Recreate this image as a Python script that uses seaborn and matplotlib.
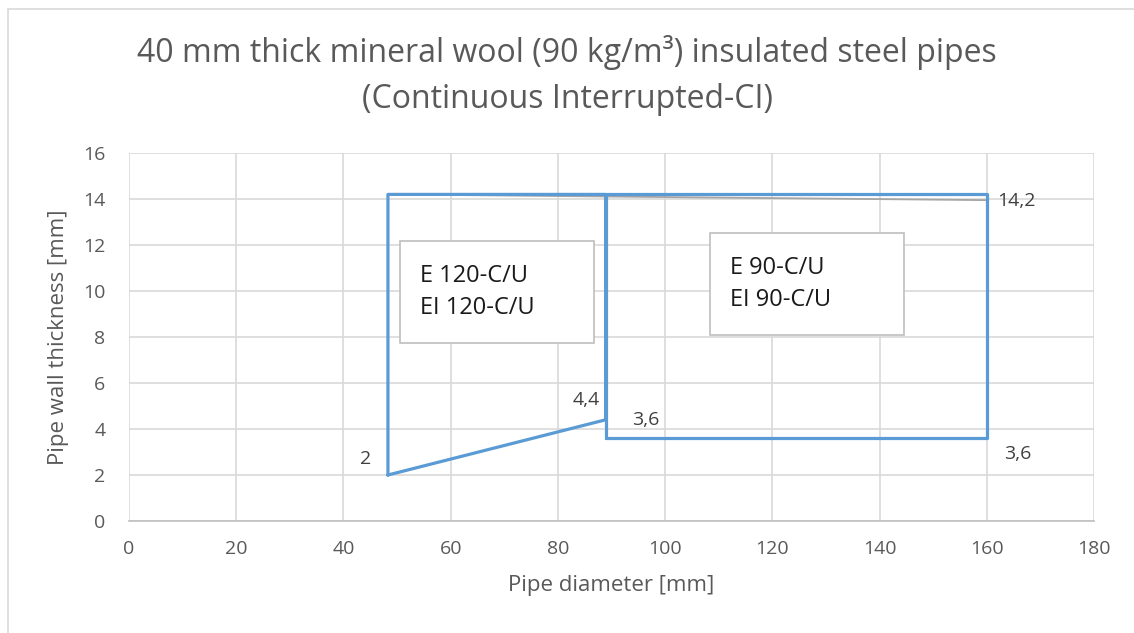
import matplotlib
matplotlib.use("Agg")
import matplotlib.pyplot as plt
import seaborn as sns
import pandas as pd
from matplotlib.patches import Rectangle

# Data
region1_x = [48.3, 48.3, 88.9, 88.9, 48.3]
region1_y = [2.0, 14.2, 14.2, 4.4, 2.0]
region2_x = [88.9, 88.9, 160.0, 160.0, 88.9]
region2_y = [3.6, 14.2, 14.2, 3.6, 3.6]
gray_x = [48.3, 160.0]
gray_y = [14.2, 13.95]
x_ticks = [0, 20, 40, 60, 80, 100, 120, 140, 160, 180]
y_ticks = [0, 2, 4, 6, 8, 10, 12, 14, 16]
point_labels = ["2", "4,4", "3,6", "3,6", "14,2"]
point_x = [48.3, 88.9, 88.9, 160.0, 160.0]
point_y = [2.0, 4.4, 3.6, 3.6, 14.2]
box_texts = ["E 120-C/U\nEI 120-C/U", "E 90-C/U\nEI 90-C/U"]

sns.set_theme(style="white")
plt.rcParams['font.family'] = ['Open Sans', 'DejaVu Sans']

fig = plt.figure(figsize=(11.34, 6.33), dpi=100)
fig.patches.append(Rectangle((8/1134, -0.01), 1.02, 1 - 9/633 + 0.01, transform=fig.transFigure,
                             fill=False, edgecolor="#d9d9d9", linewidth=1.2))
ax = fig.add_axes([129/1134, 112/633, (1094-129)/1134, (521-153)/633])

blue = "#5b9bd5"
df1 = pd.DataFrame({"x": region1_x, "y": region1_y})
df2 = pd.DataFrame({"x": region2_x, "y": region2_y})
dfg = pd.DataFrame({"x": gray_x, "y": gray_y})
common = dict(sort=False, estimator=None, errorbar=None, ax=ax)
sns.lineplot(data=dfg, x="x", y="y", color="#a5a5a5", linewidth=1.3, zorder=3, **common)
sns.lineplot(data=df1, x="x", y="y", color=blue, linewidth=2.3, zorder=4, **common)
sns.lineplot(data=df2, x="x", y="y", color=blue, linewidth=2.3, zorder=4, **common)

ax.set_xlim(0, 180)
ax.set_ylim(0, 16)
ax.set_xticks(x_ticks)
ax.set_yticks(y_ticks)
ax.grid(True, color="#d9d9d9", linewidth=1.2)
ax.set_axisbelow(True)
for s in ["top", "right", "left"]:
    ax.spines[s].set_visible(False)
ax.spines["bottom"].set_color("#bfbfbf")
ax.spines["bottom"].set_linewidth(1.2)
ax.tick_params(axis="both", length=0, labelsize=14, labelcolor="#595959")
ax.tick_params(axis="x", pad=14)
ax.tick_params(axis="y", pad=17)
ax.set_xlabel("Pipe diameter [mm]", fontsize=16, color="#595959", labelpad=12)
ax.set_ylabel("Pipe wall thickness [mm]", fontsize=16, color="#595959", labelpad=10)

fig.text(0.5, 1 - 52/633, "40 mm thick mineral wool (90 kg/m³) insulated steel pipes",
         ha="center", va="center", fontsize=23, color="#595959")
fig.text(0.5, 1 - 100/633, "(Continuous Interrupted-CI)",
         ha="center", va="center", fontsize=23, color="#595959")

# point labels (offsets in points)
offsets = [(-16, 11.5), (-14, 14), (29, 13), (22, -11.5), (21, -5)]
for lab, px, py, off in zip(point_labels, point_x, point_y, offsets):
    ax.annotate(lab, (px, py), xytext=off, textcoords="offset points",
                ha="center", va="center", fontsize=14, color="#404040")

# text boxes
boxes = [(400, 241, 594, 343), (710, 233, 904, 335)]
for (x0, y0, x1, y1), t in zip(boxes, box_texts):
    fig.patches.append(Rectangle((x0/1134, 1 - y1/633), (x1-x0)/1134, (y1-y0)/633,
                                 transform=fig.transFigure, facecolor="white",
                                 edgecolor="#bfbfbf", linewidth=1.2, zorder=5))
    fig.text((x0 + 20)/1134, 1 - (y0 + y1)/2/633, t, ha="left", va="center",
             fontsize=17, color="#1a1a1a", linespacing=1.45, zorder=6)

fig.savefig("out.png", dpi=100)
